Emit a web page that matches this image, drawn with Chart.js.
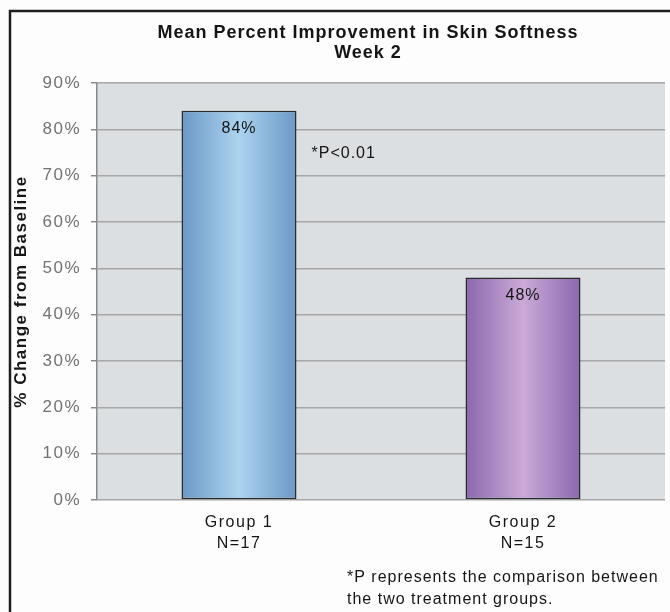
<!DOCTYPE html>
<html>
<head>
<meta charset="utf-8">
<script src="https://cdn.jsdelivr.net/npm/chart.js@4"></script>
<style>
  html, body { margin: 0; padding: 0; background: #fdfdfd; }
  #wrap { width: 670px; height: 612px; }
</style>
</head>
<body>
<div id="wrap"><canvas id="myChart" width="670" height="612"></canvas></div>
<script>
const groups = [['Group 1', 'N=17'], ['Group 2', 'N=15']];
const improvement = [84, 48];
const valueLabels = ['84%', '48%'];
const titleLines = ['Mean Percent Improvement in Skin Softness', 'Week 2'];
const yTitle = '% Change from Baseline';
const pNote = '*P<0.01';
const footnote = ['*P represents the comparison between', 'the two treatment groups.'];

const barPct = 0.405;
const FONT = "'Liberation Sans', Arial, sans-serif";

// edge / middle colours of each bar's gradient
const barEdge = ['#6b98c6', '#8b67ad'];
const barMid = ['#acd4f0', '#cbaad8'];

function barFill(c) {
    const chart = c.chart;
    const x = chart.scales.x;
    if (!chart.chartArea || !x) return barEdge[c.dataIndex];
    const cx = x.getPixelForValue(c.dataIndex);
    const w = (x.width / groups.length) * barPct;
    const g = chart.ctx.createLinearGradient(cx - w / 2, 0, cx + w / 2, 0);
    g.addColorStop(0, barEdge[c.dataIndex]);
    g.addColorStop(0.5, barMid[c.dataIndex]);
    g.addColorStop(1, barEdge[c.dataIndex]);
    return g;
}

// the source text is set rather wide, so space the letters out a little
function spacing(ctx, px) {
    if ('letterSpacing' in ctx) ctx.letterSpacing = px + 'px';
}

const decor = {
    id: 'decor',
    beforeUpdate(chart) { spacing(chart.ctx, 1.5); },
    beforeDraw(chart) {
        const ctx = chart.ctx;
        const a = chart.chartArea;
        spacing(ctx, 1.5);
        ctx.save();
        ctx.fillStyle = '#fdfdfd';
        ctx.fillRect(0, 0, chart.width, chart.height);
        ctx.fillStyle = '#dcdfe1';
        ctx.fillRect(a.left, a.top, a.right - a.left, a.bottom - a.top);
        // frame
        ctx.strokeStyle = '#1e1e1e';
        ctx.lineWidth = 2.5;
        ctx.beginPath();
        ctx.moveTo(10, chart.height);
        ctx.lineTo(10, 11);
        ctx.lineTo(chart.width, 11);
        ctx.stroke();
        ctx.restore();
    },
    afterDraw(chart) {
        const ctx = chart.ctx;
        const meta = chart.getDatasetMeta(0);
        ctx.save();
        spacing(ctx, 1);
        ctx.fillStyle = '#151515';
        ctx.textAlign = 'center';
        ctx.textBaseline = 'middle';
        ctx.font = 'bold 18px ' + FONT;
        ctx.fillText(titleLines[0], 368, 33);
        ctx.fillText(titleLines[1], 368, 53);

        ctx.font = '16px ' + FONT;
        meta.data.forEach((bar, i) => {
            ctx.fillText(valueLabels[i], bar.x, bar.y + 18);
        });

        const b0 = meta.data[0];
        ctx.textAlign = 'left';
        ctx.fillText(pNote, b0.x + b0.width / 2 + 15, chart.scales.y.getPixelForValue(74.8));

        ctx.fillText(footnote[0], 347, 578);
        ctx.fillText(footnote[1], 347, 600);
        ctx.restore();
    }
};

new Chart('myChart', {
    type: 'bar',
    data: {
        labels: groups,
        datasets: [{
            data: improvement,
            backgroundColor: barFill,
            borderColor: '#2b2b2b',
            borderWidth: 1.5,
            borderSkipped: false,
            categoryPercentage: 1,
            barPercentage: barPct
        }]
    },
    options: {
        responsive: false,
        animation: false,
        layout: { padding: { top: 83, left: 7, right: 5, bottom: 0 } },
        plugins: {
            legend: { display: false },
            tooltip: { enabled: false }
        },
        scales: {
            x: {
                grid: { display: false, drawTicks: false },
                border: { display: false },
                ticks: {
                    color: '#151515',
                    padding: 12,
                    font: { family: FONT, size: 16, lineHeight: 1.3 }
                },
                afterFit(s) { s.height = 112; }
            },
            y: {
                min: 0,
                max: 90,
                ticks: {
                    stepSize: 10,
                    color: '#727272',
                    padding: 10,
                    font: { family: FONT, size: 17 },
                    callback: v => v + '%'
                },
                grid: { color: '#a6a6a6', lineWidth: 1.5, tickLength: 6, tickColor: '#8a8a8a' },
                border: { color: '#8a8a8a', width: 1.5 },
                title: {
                    display: true,
                    text: yTitle,
                    color: '#151515',
                    font: { family: FONT, size: 17, weight: 'bold' },
                    padding: { top: 4, bottom: 4 }
                },
                afterFit(s) { s.width = 90; }
            }
        }
    },
    plugins: [decor]
});
</script>
</body>
</html>
